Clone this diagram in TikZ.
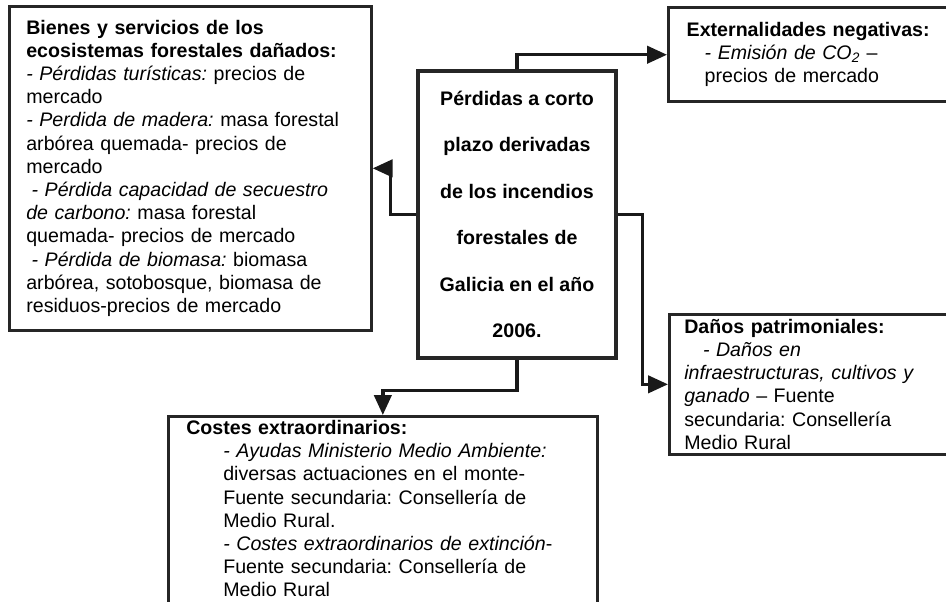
\documentclass[tikz,border=0pt]{standalone}
\usepackage{fontspec}
\setmainfont{Liberation Sans}
\usetikzlibrary{arrows.meta}
\usetikzlibrary{positioning,calc}
\tikzset{
    caja/.style={
        draw=black!85,
        line width=2pt,
        rectangle,
        align=left,
        anchor=north west,
        inner ysep=3pt,
        font=\frenchspacing\fontsize{14.7}{17.4}\selectfont
    },
    flecha/.style={
        draw=black!90,
        line width=2.5pt,
        -{Triangle[length=15pt, width=13pt]}
    }
}
\newcommand{\sangria}[1]{\hspace*{#1}}

\begin{document}
\begin{tikzpicture}[x=0.75pt, y=-0.75pt]
  \useasboundingbox (0,0) rectangle (946,602);

  % cajas
  \node[caja, text width=246pt, inner xsep=12.75pt, minimum height=243pt] (bienes) at (8,5) {%
    \textbf{Bienes y servicios de los}\\
    \textbf{ecosistemas forestales dañados:}\\
    \textit{- Pérdidas turísticas:} precios de\\
    mercado\\
    \textit{- Perdida de madera:} masa forestal\\
    arbórea quemada- precios de\\
    mercado\\
    \sangria{4pt}\textit{- Pérdida capacidad de secuestro}\\
    \textit{de carbono:} masa forestal\\
    quemada- precios de mercado\\
    \sangria{4pt}\textit{- Pérdida de biomasa:} biomasa\\
    arbórea, sotobosque, biomasa de\\
    residuos-precios de mercado};

  \node[caja, anchor=center, align=center, line width=3.6pt, inner sep=0pt,
        minimum width=148.5pt, minimum height=215.25pt,
        font=\bfseries\fontsize{14.7}{34.8}\selectfont] (perdidas) at (517,214.5) {%
    Pérdidas a corto\\
    plazo derivadas\\
    de los incendios\\
    forestales de\\
    Galicia en el año\\
    2006.};

  \node[caja, line width=2.6pt, text width=230pt, inner xsep=13.5pt, minimum height=70.5pt] (externas) at (667,6) {%
    \textbf{Externalidades negativas:}\\
    \sangria{13.5pt}\textit{- Emisión de CO\textsubscript{2}} –\\
    \sangria{13.5pt}precios de mercado};

  \node[caja, text width=230pt, inner xsep=11.25pt, minimum height=105pt] (danos) at (668,313) {%
    \textbf{Daños patrimoniales:}\\
    \sangria{14pt}\textit{- Daños en}\\
    \textit{infraestructuras, cultivos y}\\
    \textit{ganado} – Fuente\\
    secundaria: Consellería\\
    Medio Rural};

  \node[caja, text width=294.75pt, inner xsep=13.5pt] (costes) at (167,415) {%
    \textbf{Costes extraordinarios:}\\
    \sangria{27.75pt}\textit{- Ayudas Ministerio Medio Ambiente:}\\
    \sangria{27.75pt}diversas actuaciones en el monte-\\
    \sangria{27.75pt}Fuente secundaria: Consellería de\\
    \sangria{27.75pt}Medio Rural.\\
    \sangria{27.75pt}\textit{- Costes extraordinarios de extinción}-\\
    \sangria{27.75pt}Fuente secundaria: Consellería de\\
    \sangria{27.75pt}Medio Rural\rule[-20pt]{0pt}{0pt}};

  % conectores
  \draw[flecha] (perdidas.north) |- (externas.west);
  \draw[flecha] (perdidas.west) -- ++(-25,0) |- (bienes.east);
  \draw[flecha] (perdidas.east) -- ++(24,0) |- (danos.west);
  \draw[flecha] (perdidas.south) -- ++(0,30) -| (costes.north);
\end{tikzpicture}
\end{document}
